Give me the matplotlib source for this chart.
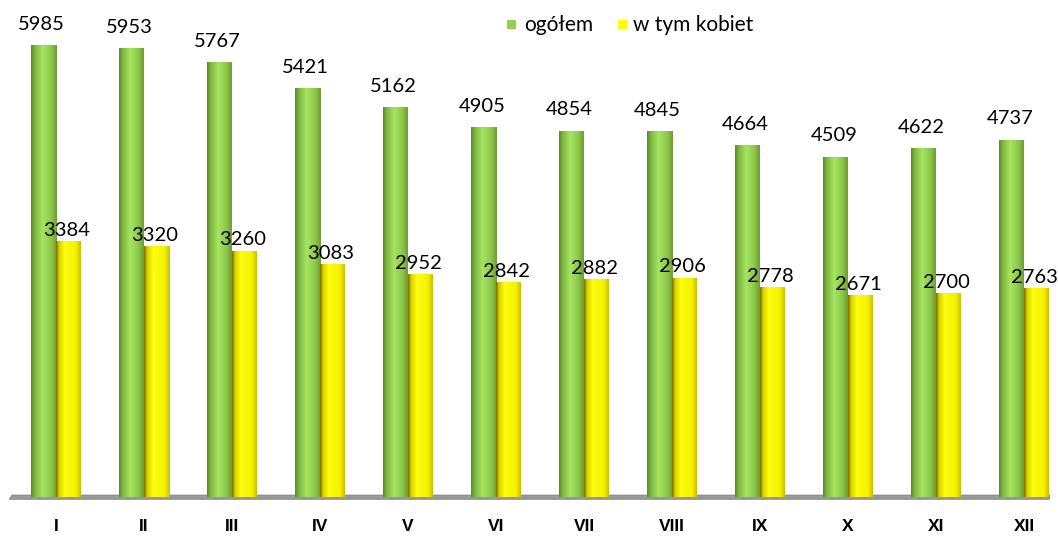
import matplotlib
matplotlib.use("Agg")
import matplotlib.pyplot as plt
import numpy as np
from matplotlib.colors import LinearSegmentedColormap
from matplotlib.patches import Polygon, Rectangle

months = ["I", "II", "III", "IV", "V", "VI", "VII", "VIII", "IX", "X", "XI", "XII"]
ogolem = [5985, 5953, 5767, 5421, 5162, 4905, 4854, 4845, 4664, 4509, 4622, 4737]
kobiety = [3384, 3320, 3260, 3083, 2952, 2842, 2882, 2906, 2778, 2671, 2700, 2763]

W, H = 1058, 536
fig = plt.figure(figsize=(W / 100, H / 100), dpi=100)
plt.rcParams["font.family"] = ["Lato", "DejaVu Sans"]

# axes placed in pixel terms: floor line at y=497 from top
ax = fig.add_axes([8 / W, 39 / H, 1042 / W, 497 / H])
ax.set_xlim((8 - 56) / 88, (1050 - 56) / 88)
ax.set_ylim(0, 6595)
ax.axis("off")

x = np.arange(len(months))
bw = 25 / 88

green_cmap = LinearSegmentedColormap.from_list(
    "g", [(0, "#5c8a2c"), (0.15, "#7fb83e"), (0.45, "#a6e463"), (0.75, "#90cc4c"), (1, "#6e9e36")])
yellow_cmap = LinearSegmentedColormap.from_list(
    "y", [(0, "#7a7000"), (0.12, "#d8d000"), (0.35, "#ffff10"), (0.8, "#f4f000"), (1, "#c8c000")])

bars_g = ax.bar(x - bw / 2, ogolem, width=bw, color="#90cc4c", zorder=2)
bars_y = ax.bar(x + bw / 2, kobiety, width=bw, color="#ffff00", zorder=2)

grad = np.linspace(0, 1, 64).reshape(1, -1)
for bars, cmap in ((bars_g, green_cmap), (bars_y, yellow_cmap)):
    for p in bars:
        x0, w, h = p.get_x(), p.get_width(), p.get_height()
        ax.imshow(grad, cmap=cmap, extent=(x0, x0 + w, 0, h), aspect="auto", zorder=3)

# floor slab
floor = Polygon([(-0.53, -30), (-0.5, 25), (11.29, 25), (11.29, -30)], closed=True,
                facecolor="#9a9a9a", edgecolor="#808080", lw=0.6, zorder=1, clip_on=False)
ax.add_patch(floor)

for xi, v in zip(x, ogolem):
    ax.text(xi - bw / 2 - 0.02, v + 170, str(v), ha="center", va="bottom", fontsize=14.5, color="black", zorder=5)
for xi, v in zip(x, kobiety):
    ax.text(xi + bw / 2 - 0.02, v + 40, str(v), ha="center", va="bottom", fontsize=14.5, color="black", zorder=5)

for xi, m in zip(x, months):
    ax.text(xi, -395, m, ha="center", va="center", fontsize=12.5, fontweight="bold",
            family=["Liberation Sans", "DejaVu Sans"], clip_on=False)

# legend
fig.patches.append(Rectangle((507 / W, 1 - 29 / H), 9 / W, 9 / H, transform=fig.transFigure,
                             facecolor="#92d050", edgecolor="none"))
fig.text(524 / W, 1 - 25 / H, "ogółem", fontsize=15, va="center", ha="left")
fig.patches.append(Rectangle((618 / W, 1 - 29 / H), 9 / W, 9 / H, transform=fig.transFigure,
                             facecolor="#ffff00", edgecolor="none"))
fig.text(633 / W, 1 - 25 / H, "w tym kobiet", fontsize=15, va="center", ha="left")

fig.savefig("out.png", dpi=100)
